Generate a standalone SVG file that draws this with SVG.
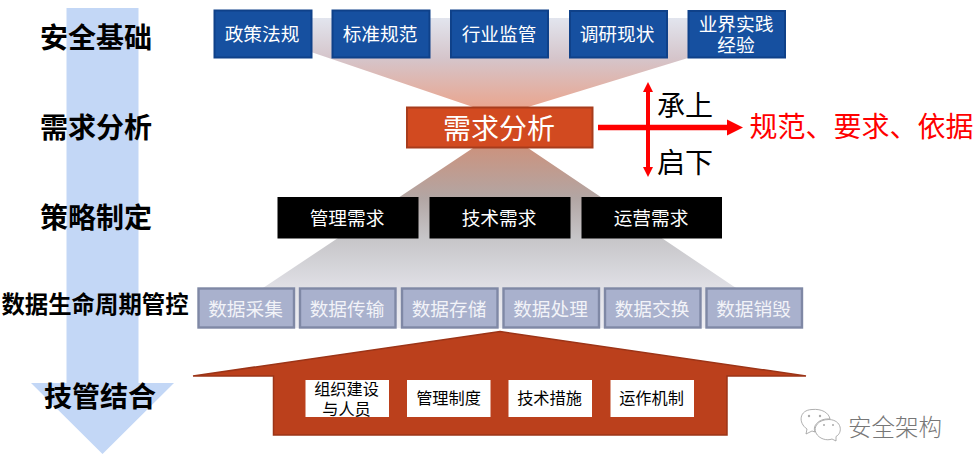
<svg xmlns="http://www.w3.org/2000/svg" width="974" height="469" viewBox="0 0 974 469">
  <style>
    text { font-family: "Noto Sans CJK SC", "Microsoft YaHei", sans-serif; text-anchor: middle; }
    .step { font-size: 28px; font-weight: 700; fill: #000; }
    .src rect { fill: #1650a0; stroke: #0f4189; stroke-width: 2; }
    .need rect { fill: #000; }
    .life rect { fill: #a9b1cd; stroke: #7f88a5; stroke-width: 2.4; }
    .item rect { fill: #fff; }
    .src text, .need text, .life text { font-size: 18.7px; fill: #fff; }
    .life text { fill: #f2f3f8; }
    .item text { font-size: 16.2px; fill: #000; }
    .cross { stroke: #ff0000; fill: none; }
    .note { font-size: 28px; fill: #000; }
  </style>
  <defs>
    <linearGradient id="fadeIn" x1="0" y1="0" x2="0" y2="1">
      <stop offset="0" stop-color="#e2e5ee"/>
      <stop offset="0.45" stop-color="#d5c5cb"/>
      <stop offset="1" stop-color="#e9a690"/>
    </linearGradient>
    <linearGradient id="fadeOut" x1="0" y1="0" x2="0" y2="1">
      <stop offset="0" stop-color="#cb937f"/>
      <stop offset="0.28" stop-color="#b2a6a4"/>
      <stop offset="0.5" stop-color="#c6c5c8"/>
      <stop offset="0.8" stop-color="#e2e2e8"/>
      <stop offset="1" stop-color="#eeeef3"/>
    </linearGradient>
    <marker id="headH" markerUnits="userSpaceOnUse" markerWidth="16" markerHeight="18" refX="0" refY="9" orient="auto">
      <polygon points="0,1 16,9 0,17" fill="#ff0000"/>
    </marker>
    <marker id="headV" markerUnits="userSpaceOnUse" markerWidth="11" markerHeight="12" refX="0" refY="5.5" orient="auto">
      <polygon points="0,0.5 10,5.5 0,10.5" fill="#ff0000"/>
    </marker>
  </defs>

  <!-- process direction arrow behind the step titles -->
  <polygon id="flow" points="66.500,8 138.500,8 138.500,383 174,383 102.500,454 31,383 66.500,383" fill="#c3d7f6"/>

  <!-- funnels through the central analysis box -->
  <polygon id="funnel-top" points="311,18 688,18 688,58 528,107 473,107 311,52" fill="url(#fadeIn)"/>
  <polygon id="funnel-bottom" points="473,148 528,148 733,286 802,328 198,328 266,286" fill="url(#fadeOut)"/>

  <g id="step-titles">
    <text class="step" x="96" y="48">安全基础</text>
    <text class="step" x="96" y="138">需求分析</text>
    <text class="step" x="96" y="228">策略制定</text>
    <text x="95" y="313" style="font-size:23.400px;font-weight:700">数据生命周期管控</text>
    <text class="step" x="100" y="407">技管结合</text>
  </g>

  <g class="src">
    <g id="src-policy"><rect x="214.500" y="10.500" width="97" height="47"/><text x="262" y="41">政策法规</text></g>
    <g id="src-standard"><rect x="332.500" y="10.500" width="97" height="47"/><text x="380" y="41">标准规范</text></g>
    <g id="src-industry"><rect x="451" y="10.500" width="97" height="47"/><text x="499" y="41">行业监管</text></g>
    <g id="src-survey"><rect x="570" y="11" width="97" height="46.500"/><text x="617" y="41">调研现状</text></g>
    <g id="src-practice"><rect x="688.500" y="11" width="96.500" height="46.500"/><text x="736"><tspan x="736" y="30.500">业界实践</tspan><tspan x="736" y="52">经验</tspan></text></g>
  </g>

  <g id="analysis">
    <rect x="407" y="107.500" width="185.500" height="40" fill="#d24a20" stroke="#a83c1c" stroke-width="2"/>
    <text x="499" y="139" style="font-size:28px;fill:#fff">需求分析</text>
  </g>

  <g id="connectors">
    <line class="cross" x1="598" y1="127.500" x2="727" y2="127.500" stroke-width="5.500" marker-end="url(#headH)"/>
    <line class="cross" x1="648" y1="127.500" x2="648" y2="92" stroke-width="4" marker-end="url(#headV)"/>
    <line class="cross" x1="648" y1="127.500" x2="648" y2="167" stroke-width="4" marker-end="url(#headV)"/>
  </g>
  <g id="cross-labels">
    <text class="note" x="685" y="116">承上</text>
    <text class="note" x="685" y="173">启下</text>
    <text x="861.500" y="137" style="font-size:28px;fill:#ff0000">规范、要求、依据</text>
  </g>

  <g class="need">
    <g id="need-mgmt"><rect x="277.500" y="197" width="141" height="41.500"/><text x="347" y="225">管理需求</text></g>
    <g id="need-tech"><rect x="429.500" y="197" width="141" height="41.500"/><text x="499" y="225">技术需求</text></g>
    <g id="need-ops"><rect x="581.500" y="197" width="140.500" height="41.500"/><text x="651" y="225">运营需求</text></g>
  </g>

  <g class="life">
    <g id="life-collect"><rect x="198.500" y="288.500" width="95.500" height="39"/><text x="245.500" y="315.500">数据采集</text></g>
    <g id="life-transfer"><rect x="300" y="288.500" width="95.500" height="39"/><text x="347" y="315.500">数据传输</text></g>
    <g id="life-store"><rect x="402" y="288.500" width="95.500" height="39"/><text x="449" y="315.500">数据存储</text></g>
    <g id="life-process"><rect x="503.500" y="288.500" width="95.500" height="39"/><text x="550.500" y="315.500">数据处理</text></g>
    <g id="life-exchange"><rect x="605" y="288.500" width="95.500" height="39"/><text x="652" y="315.500">数据交换</text></g>
    <g id="life-destroy"><rect x="706.500" y="288.500" width="95.500" height="39"/><text x="753.500" y="315.500">数据销毁</text></g>
  </g>

  <!-- house shape carrying the four supporting measures -->
  <polygon id="base" points="500,331.500 806,376 727,376 727,435 273.500,435 273.500,376 193,376" fill="#bb401c" stroke="#9c3417" stroke-width="1.500" stroke-linejoin="miter"/>

  <g class="item">
    <g id="item-org"><rect x="305.500" y="380" width="83.500" height="37"/><text x="346.500"><tspan x="346.500" y="395">组织建设</tspan><tspan x="346.500" y="415">与人员</tspan></text></g>
    <g id="item-policy"><rect x="407" y="380" width="83.500" height="37"/><text x="448.500" y="404">管理制度</text></g>
    <g id="item-measure"><rect x="508.500" y="380" width="83.500" height="37"/><text x="549.500" y="404">技术措施</text></g>
    <g id="item-mech"><rect x="610.500" y="380" width="83.500" height="37"/><text x="651.500" y="404">运作机制</text></g>
  </g>

  <!-- account badge, lower right -->
  <g id="badge">
    <g fill="#fff" stroke="#9a9a9a" stroke-width="0.800">
      <path d="M806,434 L807,429 C798,423 799,410 812,409.500 C822,408.500 829,413 830,419 C820,418 812,425 815,432 L812,431 Z"/>
      <path d="M836,441 L836,436.500 C843,433 842,420 829,419.500 C818,419.500 813,427 816,433 C819,439 827,441 832,439 Z"/>
    </g>
    <g fill="#aaa">
      <circle cx="809" cy="416" r="1.200"/><circle cx="820" cy="416" r="1.200"/>
      <circle cx="824" cy="425" r="1"/><circle cx="833" cy="425" r="1"/>
    </g>
    <text x="895" y="436" style="font-size:23.500px;font-weight:300;fill:#777">安全架构</text>
  </g>
</svg>
